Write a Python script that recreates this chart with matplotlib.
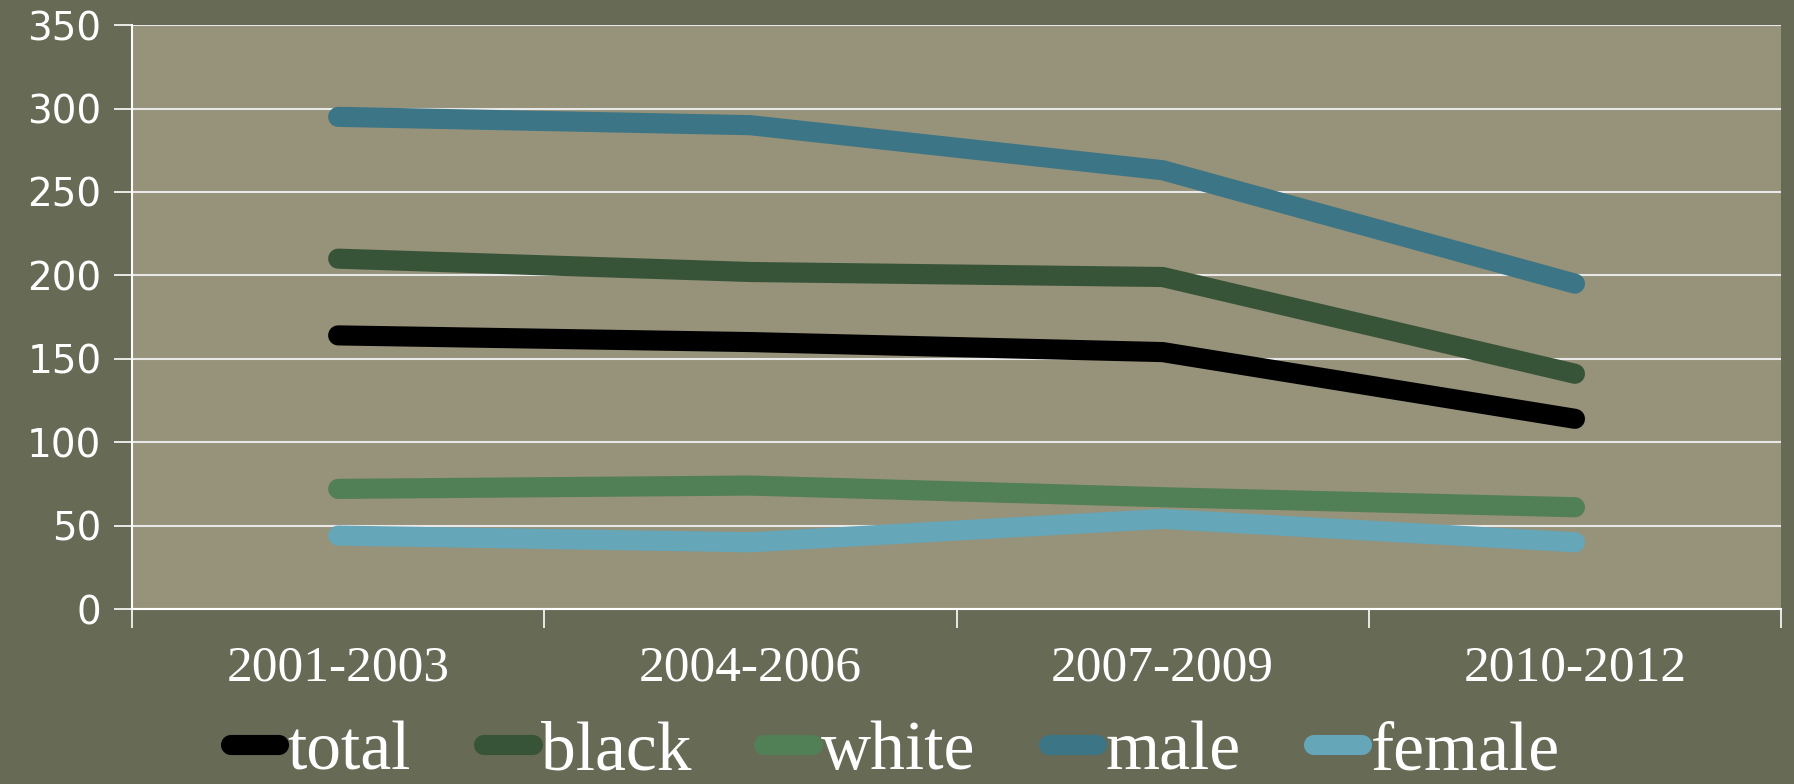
import matplotlib
matplotlib.use('Agg')
import matplotlib.pyplot as plt
import numpy as np

periods = ['2001-2003', '2004-2006', '2007-2009', '2010-2012']
total = [164, 160, 154, 114]
black = [210, 202, 199, 141]
white = [72, 74, 67, 61]
male = [295, 290, 263, 195]
female = [44, 40, 54, 40]

series = [('total', total, '#000000'),
          ('black', black, '#375438'),
          ('white', white, '#517F56'),
          ('male', male, '#3C7585'),
          ('female', female, '#65A6B8')]

fig = plt.figure(figsize=(17.94, 7.84), dpi=100, facecolor='#676A55')
ax = fig.add_axes([0.0736, 0.2232, 0.9192, 0.7448])
ax.set_facecolor('#97927A')

x = np.arange(len(periods))
for name, vals, col in series:
    ax.plot(x, vals, color=col, lw=14.5, solid_capstyle='round',
            solid_joinstyle='round', label=name)

ax.set_ylim(0, 350)
ax.set_xlim(-0.5, len(periods) - 0.5)
ax.set_yticks(np.arange(0, 351, 50))
ax.yaxis.grid(True, color='#E8E8E8', lw=1.5)
ax.set_axisbelow(True)

# boundary ticks on x, labels at category centres
ax.set_xticks(np.arange(-0.5, len(periods), 1.0))
ax.set_xticklabels([])
ax.set_xticks(x, minor=True)
ax.set_xticklabels(periods, minor=True, family='Liberation Serif',
                   fontsize=37, color='white')
ax.tick_params(axis='x', which='major', length=14, width=1.2, color='white')
ax.tick_params(axis='x', which='minor', length=0, pad=26)
ax.tick_params(axis='y', length=13, width=1.2, color='white', pad=9,
               labelsize=28, labelcolor='white')
for lab in ax.get_yticklabels():
    lab.set_family('DejaVu Sans')

for s in ['top', 'right']:
    ax.spines[s].set_visible(False)
for s in ['left', 'bottom']:
    ax.spines[s].set_color('white')
    ax.spines[s].set_linewidth(1.5)

leg = fig.legend(loc='center', bbox_to_anchor=(0.499, 0.04), ncol=5,
                 frameon=False, handlelength=0.7, handletextpad=0.12,
                 columnspacing=1.05, borderpad=0.0,
                 prop={'family': 'Liberation Serif', 'size': 50})
for t in leg.get_texts():
    t.set_color('white')

fig.savefig('out.png', dpi=100, facecolor=fig.get_facecolor())
